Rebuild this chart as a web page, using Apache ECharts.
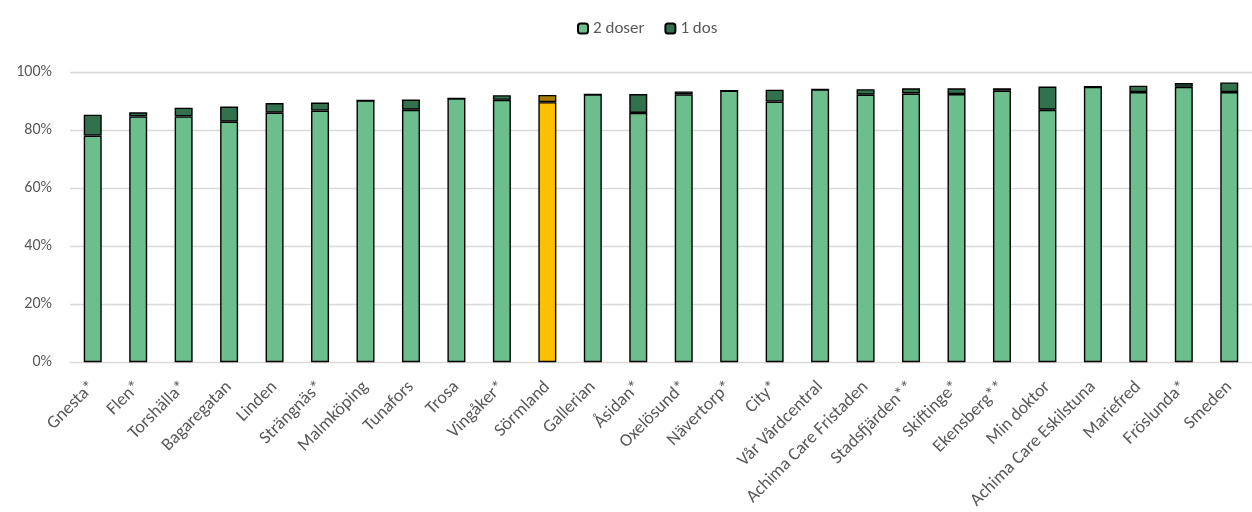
<!DOCTYPE html>
<html><head><meta charset="utf-8">
<script src="https://cdn.jsdelivr.net/npm/echarts@6/dist/echarts.min.js"></script>
<style>html,body{margin:0;padding:0;background:#fff}#c{width:1252px;height:512px}</style>
</head><body><div id="c"></div>
<script>
const categories = ["Gnesta*","Flen*","Torshälla*","Bagaregatan","Linden","Strängnäs*","Malmköping","Tunafors","Trosa","Vingåker*","Sörmland","Gallerian","Åsidan*","Oxelösund*","Nävertorp*","City*","Vår Vårdcentral","Achima Care Fristaden","Stadsfjärden**","Skiftinge*","Ekensberg**","Min doktor","Achima Care Eskilstuna","Mariefred","Fröslunda*","Smeden"];
const twoDoses = [78.1,84.7,84.7,82.9,86.0,86.7,90.2,87.0,90.9,90.4,89.6,92.3,85.9,92.3,93.6,89.8,94.0,92.2,92.6,92.4,93.6,87.0,94.9,93.1,94.9,93.1];
const oneDose  = [7.2,1.4,3.0,5.2,3.3,2.8,0,3.5,0,1.6,2.5,0,6.5,1.0,0,4.1,0,1.9,1.8,2.0,0.8,8.0,0,2.2,1.3,3.3];
const yTicks = [0,20,40,60,80,100];
const highlight = "Sörmland";

const FONT = 'Carlito, Calibri, Lato, "Open Sans", sans-serif';
const c2 = '#6DBE8D', c1 = '#32714D', h2 = '#FFC000', h1 = '#A67F00';
const chart = echarts.init(document.getElementById('c'));
chart.setOption({
  animation:false,
  legend:{top:15,left:572,itemWidth:10,itemHeight:10,itemGap:20,
    textStyle:{fontFamily:FONT,fontSize:17,color:'#595959'},
    data:['2 doser','1 dos']},
  grid:{left:70,top:72,width:1196,bottom:149,containLabel:false},
  xAxis:{type:'category',data:categories,
    axisLine:{lineStyle:{color:'#D9D9D9',width:1}},axisTick:{show:false},
    axisLabel:{rotate:45,interval:0,margin:22,fontFamily:FONT,fontSize:18,color:'#595959'}},
  yAxis:{type:'value',min:yTicks[0],max:yTicks[yTicks.length-1],interval:20,
    axisLabel:{formatter:'{value}%',fontFamily:FONT,fontSize:16,color:'#595959',margin:18},
    splitLine:{lineStyle:{color:'#D9D9D9',width:1.3}},axisLine:{show:false},axisTick:{show:false}},
  series:[
    {name:'2 doser',type:'bar',stack:'a',barWidth:18,
      itemStyle:{color:c2,borderColor:'#000',borderWidth:1.4},
      data:twoDoses.map((v,i)=>categories[i]===highlight?{value:v,itemStyle:{color:h2}}:v)},
    {name:'1 dos',type:'bar',stack:'a',barWidth:18,
      itemStyle:{color:c1,borderColor:'#000',borderWidth:1.4},
      data:oneDose.map((v,i)=>categories[i]===highlight?{value:v,itemStyle:{color:h1}}:v)}
  ]
});
</script></body></html>
